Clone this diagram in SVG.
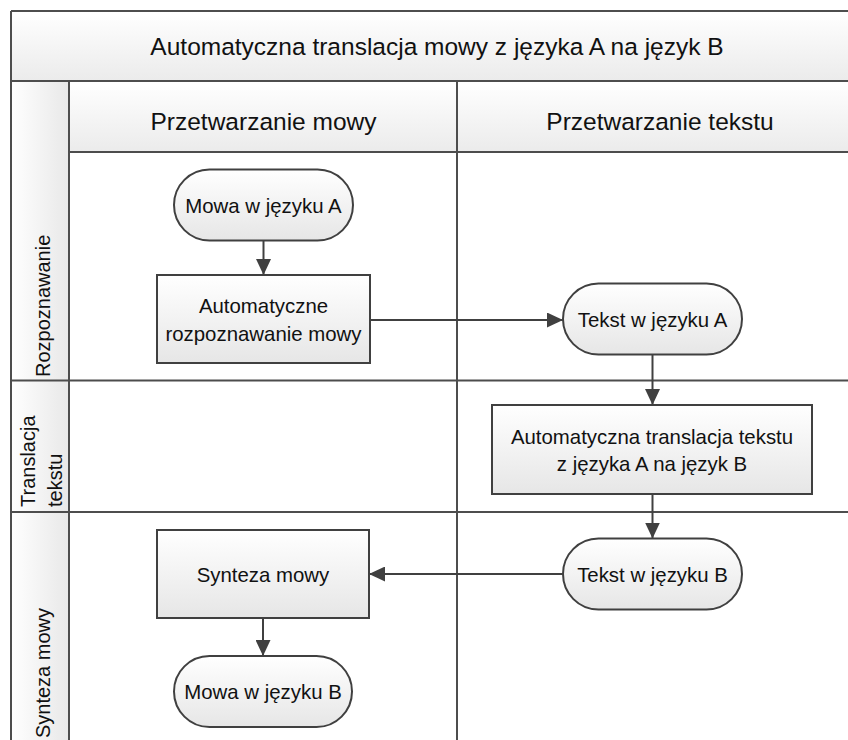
<svg xmlns="http://www.w3.org/2000/svg" width="848" height="740" viewBox="0 0 848 740">
<defs>
<linearGradient id="gV" x1="0" y1="0" x2="0" y2="1">
<stop offset="0" stop-color="#ffffff"/>
<stop offset="1" stop-color="#e6e6e6"/>
</linearGradient>
<linearGradient id="gBand" x1="0" y1="0" x2="0" y2="1">
<stop offset="0" stop-color="#ffffff"/>
<stop offset="1" stop-color="#ebebeb"/>
</linearGradient>
<linearGradient id="gH" x1="0" y1="0" x2="1" y2="0">
<stop offset="0" stop-color="#ffffff"/>
<stop offset="1" stop-color="#e8e8e8"/>
</linearGradient>
<marker id="arr" markerUnits="userSpaceOnUse" markerWidth="16" markerHeight="15" refX="16" refY="7.5" orient="auto">
<path d="M0,0 L16,7.5 L0,15 Z" fill="#404040"/>
</marker>
<style>
.t{font-family:"Liberation Sans",Arial,sans-serif;fill:#111;}
.big{font-size:24.5px;}
.n{font-size:20.4px;}
.lane{font-size:20px;}
.grid{stroke:#4d4d4d;stroke-width:2;fill:none;}
.node{fill:url(#gV);stroke:#404040;stroke-width:2;}
.conn{stroke:#404040;stroke-width:2;fill:none;marker-end:url(#arr);}
</style>
</defs>

<g id="pool">
<rect x="11" y="11" width="850" height="70" fill="url(#gBand)"/>
<rect x="11" y="81" width="58" height="670" fill="url(#gH)"/>
<rect x="69" y="81" width="790" height="71" fill="url(#gBand)"/>
<rect x="69" y="152" width="790" height="600" fill="#ffffff"/>
<path class="grid" d="M11,11 H860 M11,11 V750 M11,81 H860 M69,81 V750 M457,81 V750 M69,152 H860 M11,380.5 H860 M11,512 H860"/>
<text class="t big" x="437" y="55" text-anchor="middle">Automatyczna translacja mowy z języka A na język B</text>
<text class="t big" x="263.5" y="129.5" text-anchor="middle">Przetwarzanie mowy</text>
<text class="t big" x="660" y="129.5" text-anchor="middle">Przetwarzanie tekstu</text>
</g>

<g id="lane-rozpoznawanie">
<text class="t lane" transform="translate(50,377) rotate(-90)">Rozpoznawanie</text>
</g>
<g id="lane-translacja">
<text class="t lane" transform="translate(35,507) rotate(-90)">Translacja</text>
<text class="t lane" transform="translate(61.5,507) rotate(-90)">tekstu</text>
</g>
<g id="lane-synteza">
<text class="t lane" text-anchor="end" transform="translate(50,608) rotate(-90)">Synteza mowy</text>
</g>

<g id="connectors">
<path class="conn" d="M263.5,241 V275"/>
<path class="conn" d="M370,320 H563"/>
<path class="conn" d="M652.5,354.5 V405"/>
<path class="conn" d="M652.5,494 V538.5"/>
<path class="conn" d="M563,574 H369"/>
<path class="conn" d="M263,618 V656"/>
</g>

<g id="mowa-a">
<rect class="node" x="174" y="169.5" width="179" height="71" rx="35.5" ry="35.5"/>
<text class="t n" x="263.5" y="212.5" text-anchor="middle">Mowa w języku A</text>
</g>
<g id="asr">
<rect class="node" x="157" y="275" width="213" height="88"/>
<text class="t n" x="263.5" y="313" text-anchor="middle">Automatyczne</text>
<text class="t n" x="263.5" y="341" text-anchor="middle">rozpoznawanie mowy</text>
</g>
<g id="tekst-a">
<rect class="node" x="563" y="283.5" width="179" height="71" rx="35.5" ry="35.5"/>
<text class="t n" x="652.5" y="326.5" text-anchor="middle">Tekst w języku A</text>
</g>
<g id="mt">
<rect class="node" x="492" y="405" width="320" height="89"/>
<text class="t n" x="652" y="443.5" text-anchor="middle">Automatyczna translacja tekstu</text>
<text class="t n" x="652" y="470.5" text-anchor="middle">z języka A na język B</text>
</g>
<g id="tekst-b">
<rect class="node" x="563" y="538.5" width="179" height="71" rx="35.5" ry="35.5"/>
<text class="t n" x="652.5" y="581.5" text-anchor="middle">Tekst w języku B</text>
</g>
<g id="synteza">
<rect class="node" x="157" y="530" width="212" height="88"/>
<text class="t n" x="263" y="581.5" text-anchor="middle">Synteza mowy</text>
</g>
<g id="mowa-b">
<rect class="node" x="174" y="656" width="178" height="71" rx="35.5" ry="35.5"/>
<text class="t n" x="263" y="699" text-anchor="middle">Mowa w języku B</text>
</g>
</svg>
